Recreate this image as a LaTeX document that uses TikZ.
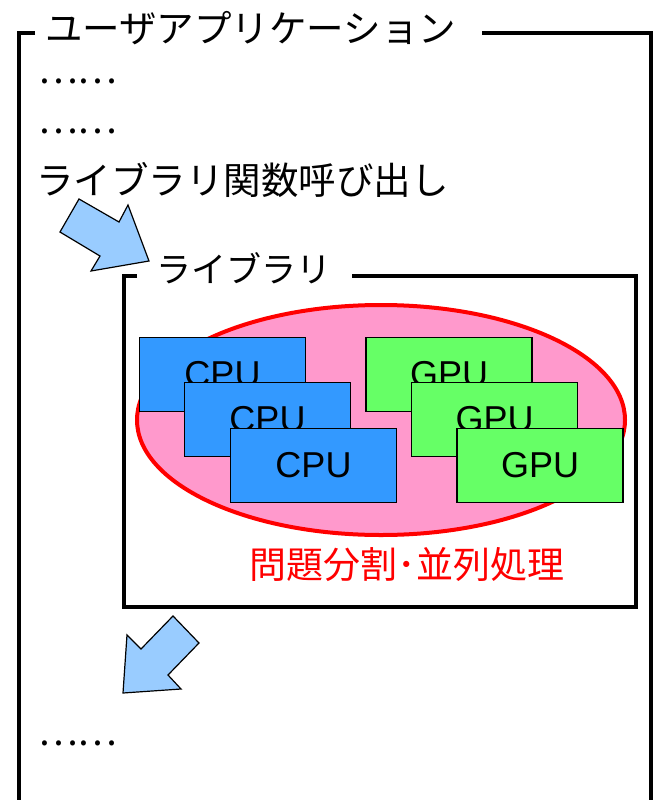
\documentclass[tikz,border=0pt]{standalone}
\usepackage{fontspec}
\setmainfont{Liberation Sans}
\newfontfamily\jp{Noto Sans CJK JP}
\definecolor{cpublue}{HTML}{3399FF}
\definecolor{gpugreen}{HTML}{66FF66}
\definecolor{ellpink}{HTML}{FF99CC}
\definecolor{arrowblue}{HTML}{99CCFF}
\definecolor{redtext}{HTML}{FF0000}
\tikzset{
  frameline/.style={line width=4pt, line join=miter, line cap=butt},
  unitbox/.style={draw=black, line width=1.5pt, minimum width=166pt, minimum height=74pt, inner sep=0pt,
    font=\fontsize{36}{40}\selectfont},
  cpubox/.style={unitbox, fill=cpublue},
  gpubox/.style={unitbox, fill=gpugreen},
  jptext/.style={inner sep=0pt, anchor=west, font=\jp\fontsize{37.5}{40}\selectfont},
  jpsmall/.style={inner sep=0pt, font=\jp\fontsize{35}{38}\selectfont},
  bigarrow/.style={fill=arrowblue, draw=black, line width=1.2pt, line join=miter},
}
\begin{document}
\begin{tikzpicture}[x=1pt,y=-1pt]
\useasboundingbox (0,0) rectangle (653,800);
% outer frame (user application)
\draw[frameline] (35,33) -- (19,33) -- (19,805);
\draw[frameline] (482,33) -- (651,33) -- (651,805);
\node[jptext] (apptitle) at (45,28) {ユーザアプリケーション};
\node[jptext] (dots1) at (38,81) {……};
\node[jptext] (dots2) at (38,131) {……};
\node[jptext] (call) at (36,180) {ライブラリ関数呼び出し};
\node[jptext] (dots3) at (38,743) {……};
% arrows
\draw[bigarrow] (79,199) -- (119,222) -- (128,205) -- (149,261) -- (91,271) -- (100,256) -- (60,232) -- cycle;
\draw[bigarrow] (173,616) -- (199,643) -- (168,675) -- (181,689) -- (123,693) -- (127,635) -- (141,649) -- cycle;
% library frame
\draw[frameline] (137,276) -- (124,276) -- (124,607) -- (636,607) -- (636,276) -- (352,276);
\node[jpsmall, anchor=west] (libtitle) at (156,268) {ライブラリ};
% ellipse
\draw[draw=redtext, line width=4pt, fill=ellpink] (381,420) ellipse [x radius=244, y radius=115];
% units
\node[cpubox] (cpu1) at (222.5,374.5) {CPU};
\node[cpubox] (cpu2) at (267.5,419.5) {CPU};
\node[cpubox] (cpu3) at (313.5,465.5) {CPU};
\node[gpubox] (gpu1) at (449,374.5) {GPU};
\node[gpubox] (gpu2) at (494.5,419.5) {GPU};
\node[gpubox] (gpu3) at (540,465.5) {GPU};
\node[jpsmall, text=redtext, font=\jp\fontsize{37}{40}\selectfont] (parallel) at (407,565) {問題分割･並列処理};
\end{tikzpicture}
\end{document}
